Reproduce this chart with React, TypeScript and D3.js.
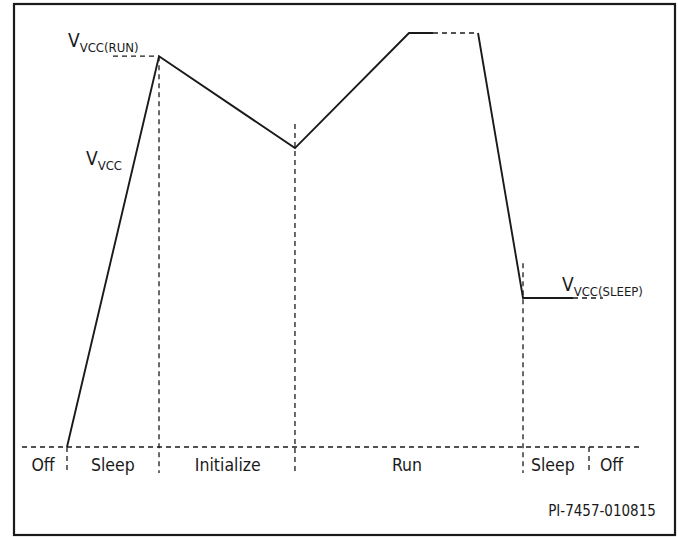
import React from "react";
import * as d3 from "d3";

// Vcc waveform (time units, voltage units)
const vccTime = [7.28, 22.17, 44.17, 62.62, 66.5];
const vccVolt = [0, 94.4, 72.2, 100, 100];
const fallTime = [73.79, 81.07, 89.16];
const fallVolt = [100, 36.0, 36.0];
// dashed continuations
const runDashTime = [66.5, 73.79];
const runDashVolt = [100, 100];
const sleepDashTime = [89.16, 94.0];
const sleepDashVolt = [36.0, 36.0];
const runRefTime = [14.72, 22.17];
const runRefVolt = [94.4, 94.4];
// phase boundary markers: time, top voltage
const markerTime = [7.28, 22.17, 44.17, 81.07, 91.75];
const markerTop = [0, 94.4, 78, 44.4, 0];
const markerBottom = -6.3;
// phases
const phaseLabels = ["Off", "Sleep", "Initialize", "Run", "Sleep", "Off"];
const phaseCenters = [3.4, 14.7, 33.3, 62.3, 85.9, 95.4];
const baselineRange = [0, 100];

export default function App() {
  const W = 678, H = 537;
  const x = d3.scaleLinear().domain([0, 100]).range([22, 640]);
  const y = d3.scaleLinear().domain([0, 100]).range([447, 33]);
  const line = d3.line<[number, number]>().x(d => x(d[0])).y(d => y(d[1]));
  const zip = (a: number[], b: number[]) => a.map((v, i) => [v, b[i]] as [number, number]);
  const dash = "5,4";
  const font = "'DejaVu Sans Condensed', 'DejaVu Sans', Verdana, sans-serif";
  const ink = "#1a1a1a";
  return (
    <svg width={W} height={H} style={{ position: "absolute", left: 0, top: 0, background: "#fff" }}>
      <rect x={14} y={4} width={661} height={531} fill="#fff" stroke={ink} strokeWidth={2.2} />
      {/* baseline */}
      <line x1={x(baselineRange[0])} x2={x(baselineRange[1])} y1={y(0)} y2={y(0)} stroke={ink} strokeWidth={1.3} strokeDasharray={dash} />
      {/* markers */}
      {markerTime.map((t, i) => (
        <line key={i} x1={x(t)} x2={x(t)} y1={y(markerTop[i])} y2={y(markerBottom)} stroke={ink} strokeWidth={1.3} strokeDasharray={dash} />
      ))}
      <path d={line(zip(runRefTime, runRefVolt)) || ""} fill="none" stroke={ink} strokeWidth={1.3} strokeDasharray={dash} />
      <path d={line(zip(runDashTime, runDashVolt)) || ""} fill="none" stroke={ink} strokeWidth={1.5} strokeDasharray={dash} />
      <path d={line(zip(sleepDashTime, sleepDashVolt)) || ""} fill="none" stroke={ink} strokeWidth={1.5} strokeDasharray={dash} />
      <path d={line(zip(vccTime, vccVolt)) || ""} fill="none" stroke={ink} strokeWidth={1.9} strokeLinejoin="miter" />
      <path d={line(zip(fallTime, fallVolt)) || ""} fill="none" stroke={ink} strokeWidth={1.9} />
      {/* labels */}
      <g fontFamily={font} fill={ink}>
        <text x={68} y={47} fontSize={19}>V<tspan fontSize={13} dy={5}>VCC(RUN)</tspan></text>
        <text x={86} y={165} fontSize={19}>V<tspan fontSize={13} dy={5}>VCC</tspan></text>
        <text x={562} y={291} fontSize={19}>V<tspan fontSize={13} dy={5}>VCC(SLEEP)</tspan></text>
        {phaseLabels.map((l, i) => (
          <text key={i} x={x(phaseCenters[i])} y={471} fontSize={17.5} textAnchor="middle">{l}</text>
        ))}
        <text x={602} y={516} fontSize={15} textAnchor="middle">PI-7457-010815</text>
      </g>
    </svg>
  );
}
